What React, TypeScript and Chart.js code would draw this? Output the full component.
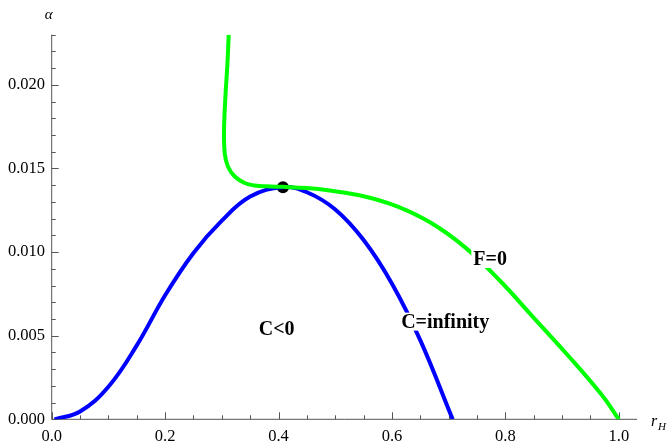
import React, { useEffect, useRef } from "react";
import { Chart, registerables } from "chart.js";

Chart.register(...registerables);

// C = infinity curve (blue)
const blueR = [0.005, 0.05, 0.1, 0.15, 0.2, 0.25, 0.3, 0.35, 0.4077, 0.45, 0.5, 0.55, 0.6, 0.65, 0.707];
const blueAlpha = [0, 0.00047, 0.00195, 0.00442, 0.00742, 0.00995, 0.01188, 0.01332, 0.01388, 0.01358, 0.01255, 0.01072, 0.00811, 0.00472, 0];

// F = 0 curve (green)
const greenR = [0.3121, 0.3099, 0.3063, 0.3039, 0.3051, 0.3109, 0.3227, 0.3403, 0.358, 0.38, 0.4077, 0.45, 0.49, 0.55, 0.61, 0.67, 0.73, 0.79, 0.85, 0.91, 0.97, 1.0];
const greenAlpha = [0.023, 0.0213, 0.0193, 0.0173, 0.0159, 0.0151, 0.01452, 0.01413, 0.01398, 0.01393, 0.0139, 0.01383, 0.01368, 0.01334, 0.01272, 0.01172, 0.01025, 0.0083, 0.00607, 0.00383, 0.00145, 0];

// point where the two curves touch
const touchR = [0.4077];
const touchAlpha = [0.01388];

// axes
const xMin = 0;
const xMax = 1.032;
const yMin = 0;
const yMax = 0.023;
const xMajorTicks = [0, 0.2, 0.4, 0.6, 0.8, 1.0];
const xMinorStep = 0.05;
const yMajorTicks = [0, 0.005, 0.01, 0.015, 0.02];
const yMinorStep = 0.001;

// region annotations
const labelTexts = ["C<0", "C=infinity", "F=0"];
const labelR = [0.3967, 0.6938, 0.773];
const labelAlpha = [0.00543, 0.00584, 0.00959];

const SERIF = "'Liberation Serif', 'Times New Roman', serif";

function minorValues(min: number, max: number, step: number): number[] {
  const out: number[] = [];
  for (let i = 0; ; i++) {
    const v = Math.round((min + i * step) * 1e6) / 1e6;
    if (v > max + 1e-9) break;
    out.push(v);
  }
  return out;
}

function isMajor(v: number, majors: number[]) {
  return majors.some((m) => Math.abs(m - v) < 1e-9);
}

const axesPlugin = {
  id: "mathAxes",
  beforeDatasetsDraw(chart: any) {
    const { ctx, chartArea } = chart;
    const xs = chart.scales.x;
    const ys = chart.scales.y;
    const x0 = xs.getPixelForValue(0);
    const y0 = ys.getPixelForValue(0);
    ctx.save();
    ctx.strokeStyle = "#555";
    ctx.lineWidth = 1;
    ctx.beginPath();
    // vertical axis
    ctx.moveTo(x0, y0);
    ctx.lineTo(x0, chartArea.top);
    // horizontal axis
    ctx.moveTo(x0, y0);
    ctx.lineTo(chartArea.right, y0);
    // tick marks pointing into the plot
    for (const v of minorValues(yMin, yMax, yMinorStep)) {
      const py = Math.round(ys.getPixelForValue(v)) + 0.5;
      const len = isMajor(v, yMajorTicks) ? 7 : 4;
      ctx.moveTo(x0, py);
      ctx.lineTo(x0 + len, py);
    }
    for (const v of minorValues(xMin, xMax, xMinorStep)) {
      const px = Math.round(xs.getPixelForValue(v)) + 0.5;
      const len = isMajor(v, xMajorTicks) ? 7 : 4;
      ctx.moveTo(px, y0);
      ctx.lineTo(px, y0 - len);
    }
    ctx.stroke();

    // axis titles
    ctx.fillStyle = "#000";
    ctx.font = `italic 15px ${SERIF}`;
    ctx.textAlign = "center";
    ctx.textBaseline = "middle";
    ctx.fillText("α", x0 - 3, 15);
    ctx.textAlign = "left";
    ctx.textBaseline = "alphabetic";
    ctx.font = `italic 16px ${SERIF}`;
    ctx.fillText("r", 651, 426);
    ctx.font = `italic 11px ${SERIF}`;
    ctx.fillText("H", 658, 430);
    ctx.restore();
  },
  afterDatasetsDraw(chart: any) {
    const { ctx } = chart;
    const xs = chart.scales.x;
    const ys = chart.scales.y;
    ctx.save();
    ctx.font = `bold 20px ${SERIF}`;
    ctx.textAlign = "center";
    ctx.textBaseline = "middle";
    labelTexts.forEach((t, i) => {
      const px = xs.getPixelForValue(labelR[i]);
      const py = ys.getPixelForValue(labelAlpha[i]);
      const w = ctx.measureText(t).width;
      ctx.fillStyle = "#fff";
      ctx.fillRect(px - w / 2 - 2, py - 9, w + 4, 18);
      ctx.fillStyle = "#000";
      ctx.fillText(t, px, py + 1);
    });
    ctx.restore();
  },
};

export default function App() {
  const canvasRef = useRef<HTMLCanvasElement | null>(null);

  useEffect(() => {
    const canvas = canvasRef.current;
    if (!canvas) return;
    const toPoints = (xs: number[], ys: number[]) => xs.map((x, i) => ({ x, y: ys[i] }));

    const chart = new Chart(canvas, {
      type: "scatter",
      data: {
        datasets: [
          {
            label: "F=0",
            data: toPoints(greenR, greenAlpha),
            showLine: true,
            borderColor: "#00ff00",
            borderWidth: 4,
            pointRadius: 0,
            tension: 0.4,
            fill: false,
          },
          {
            label: "C=infinity",
            data: toPoints(blueR, blueAlpha),
            showLine: true,
            borderColor: "#0000ff",
            borderWidth: 4,
            pointRadius: 0,
            tension: 0.4,
            fill: false,
          },
          {
            label: "touch",
            data: toPoints(touchR, touchAlpha),
            showLine: false,
            pointRadius: 6,
            pointBackgroundColor: "#000",
            pointBorderColor: "#000",
            pointBorderWidth: 0,
          },
        ],
      },
      options: {
        animation: false,
        responsive: false,
        devicePixelRatio: 1,
        layout: { padding: { left: 0, right: 31, top: 34.7, bottom: 0 } },
        plugins: {
          legend: { display: false },
          tooltip: { enabled: false },
        },
        scales: {
          x: {
            type: "linear",
            min: xMin,
            max: xMax,
            grid: { display: false, drawTicks: false },
            border: { display: false },
            afterBuildTicks: (scale: any) => {
              scale.ticks = xMajorTicks.map((value) => ({ value }));
            },
            afterFit: (scale: any) => {
              scale.height = 23.7;
            },
            ticks: {
              padding: 7,
              color: "#000",
              maxRotation: 0,
              autoSkip: false,
              font: { family: SERIF, size: 16.5 },
              callback: (v: any) => Number(v).toFixed(1),
            },
          },
          y: {
            type: "linear",
            min: yMin,
            max: yMax,
            grid: { display: false, drawTicks: false },
            border: { display: false },
            afterBuildTicks: (scale: any) => {
              scale.ticks = yMajorTicks.map((value) => ({ value }));
            },
            afterFit: (scale: any) => {
              scale.width = 51.7;
            },
            ticks: {
              padding: 6.7,
              color: "#000",
              autoSkip: false,
              font: { family: SERIF, size: 16.5 },
              callback: (v: any) => Number(v).toFixed(3),
            },
          },
        },
      },
      plugins: [axesPlugin],
    });

    return () => chart.destroy();
  }, []);

  return (
    <div style={{ position: "fixed", left: 0, top: 0, width: 668, height: 443, background: "#fff" }}>
      <canvas ref={canvasRef} width={668} height={443} style={{ display: "block" }} />
    </div>
  );
}
